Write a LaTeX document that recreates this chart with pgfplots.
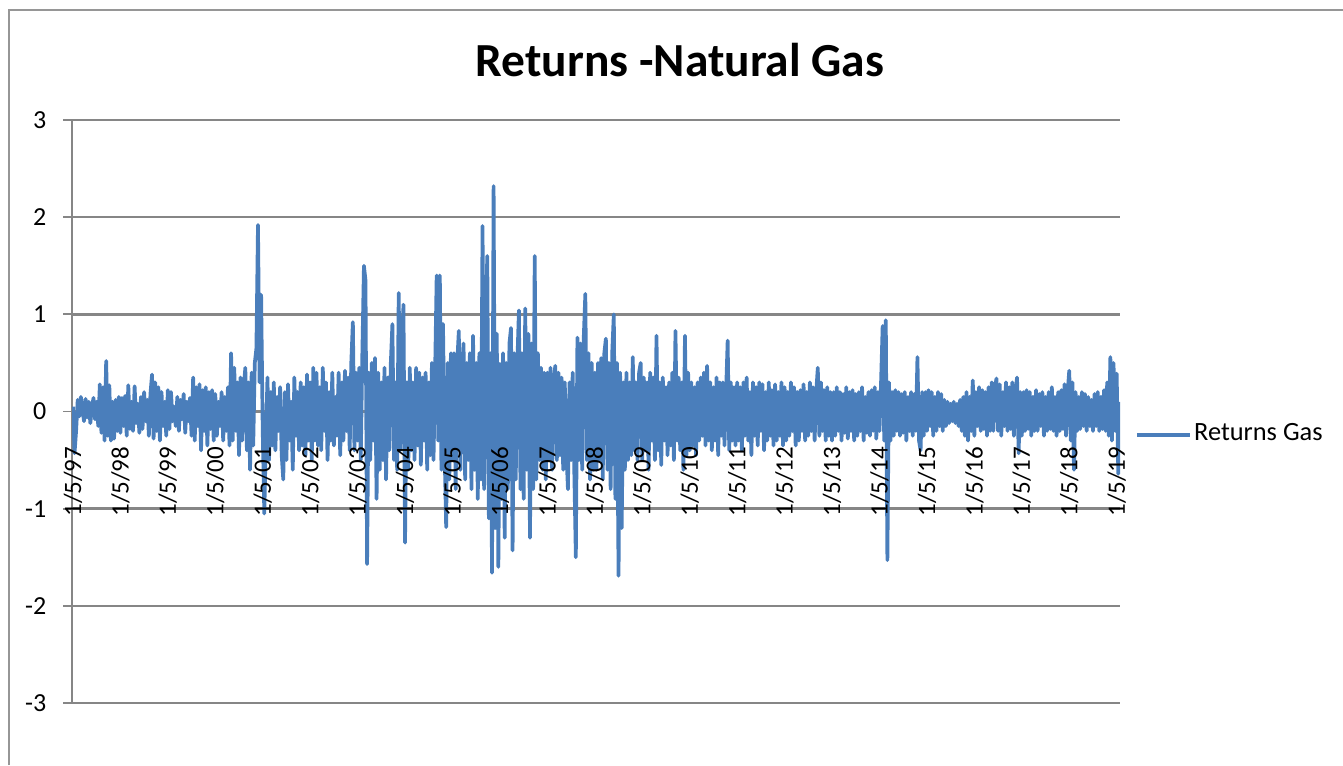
\documentclass[border=0pt]{standalone}
\usepackage{fontspec}
\setmainfont{Carlito}
\usepackage{pgfplots}
\pgfplotsset{compat=1.18}
\usepackage{pgfplotstable}
\definecolor{gasblue}{HTML}{4A7EBB}
\definecolor{gridgray}{RGB}{134,134,134}
\definecolor{framegray}{RGB}{150,150,150}

\pgfplotsset{
  gasframe/.style={
    at={(0.72cm,0.62cm)}, anchor=south west,
    scale only axis, width=10.48cm, height=5.83cm,
    xmin=-0.02, xmax=22.07, ymin=-3, ymax=3,
  },
}

% one value every ~12 days, 30 values per year starting 1/5/97
\pgfplotstableread[row sep=\\]{
y\\
0.05\\ -0.43\\ -0.2\\ 0.12\\ -0.05\\ 0.15\\ 0.02\\ -0.1\\ 0.13\\ -0.06\\ 0.1\\ -0.12\\ 0.05\\ 0.14\\ -0.08\\ 0.1\\ -0.15\\ 0.28\\ -0.22\\ 0.25\\ -0.3\\ 0.52\\ -0.25\\ 0.27\\ -0.3\\ 0.1\\ -0.28\\ 0.12\\ -0.2\\ 0.15\\
-0.22\\ 0.14\\ -0.15\\ 0.16\\ -0.25\\ 0.27\\ -0.18\\ 0.1\\ -0.2\\ 0.26\\ -0.12\\ 0.08\\ -0.22\\ 0.15\\ -0.18\\ 0.2\\ -0.1\\ 0.12\\ -0.25\\ 0.18\\ 0.38\\ -0.28\\ 0.3\\ -0.2\\ 0.25\\ -0.3\\ 0.2\\ -0.15\\ 0.1\\ -0.25\\
0.22\\ -0.18\\ 0.2\\ -0.1\\ 0.05\\ -0.15\\ 0.15\\ -0.2\\ 0.12\\ -0.08\\ 0.18\\ -0.22\\ 0.1\\ -0.1\\ 0.14\\ -0.25\\ 0.35\\ -0.3\\ 0.25\\ -0.15\\ 0.28\\ -0.4\\ 0.22\\ -0.2\\ 0.25\\ -0.35\\ 0.2\\ -0.18\\ 0.22\\ -0.3\\
0.18\\ -0.25\\ 0.1\\ -0.15\\ 0.2\\ -0.3\\ 0.15\\ -0.2\\ 0.25\\ -0.35\\ 0.6\\ -0.3\\ 0.45\\ -0.2\\ 0.3\\ -0.45\\ 0.35\\ -0.3\\ 0.25\\ 0.45\\ -0.4\\ 0.3\\ -0.6\\ 0.4\\ -0.35\\ 0.5\\ 0.65\\ 1.92\\ 0.3\\ 1.2\\
-0.2\\ -1.05\\ -0.3\\ 0.35\\ -0.5\\ 0.2\\ -0.35\\ 0.3\\ -0.4\\ 0.15\\ -0.2\\ 0.25\\ -0.45\\ -0.7\\ 0.2\\ -0.5\\ 0.28\\ -0.3\\ 0.1\\ -0.6\\ 0.35\\ -0.25\\ 0.2\\ -0.4\\ 0.3\\ -0.35\\ 0.25\\ -0.45\\ 0.38\\ -0.3\\
0.3\\ -0.5\\ 0.45\\ -0.3\\ 0.4\\ -0.35\\ 0.25\\ -0.4\\ 0.45\\ -0.2\\ 0.3\\ -0.5\\ 0.2\\ -0.3\\ 0.4\\ -0.35\\ 0.15\\ -0.25\\ 0.4\\ -0.45\\ 0.3\\ -0.3\\ 0.42\\ -0.2\\ 0.35\\ -0.4\\ 0.5\\ 0.92\\ -0.4\\ 0.4\\
-0.3\\ 0.45\\ -0.5\\ 0.6\\ 1.5\\ 1.35\\ -1.57\\ 0.4\\ -0.5\\ 0.5\\ -0.3\\ 0.55\\ -0.9\\ 0.4\\ -0.6\\ 0.3\\ -0.5\\ 0.45\\ -0.7\\ 0.35\\ -0.4\\ 0.5\\ 0.9\\ -0.5\\ 0.3\\ -0.6\\ 1.22\\ -0.4\\ 0.6\\ 1.1\\
-1.35\\ 0.3\\ -0.6\\ 0.45\\ -0.4\\ 0.3\\ -0.5\\ 0.45\\ -0.35\\ 0.4\\ -0.55\\ 0.35\\ -0.3\\ 0.4\\ -0.6\\ 0.3\\ -0.45\\ 0.5\\ -0.5\\ 0.4\\ 1.4\\ -0.3\\ 1.4\\ -0.6\\ 0.9\\ -0.4\\ -1.19\\ 0.5\\ -0.7\\ 0.6\\
-0.5\\ 0.6\\ -0.8\\ 0.5\\ 0.83\\ -0.6\\ 0.4\\ 0.7\\ -0.7\\ 0.5\\ -0.5\\ 0.6\\ -0.8\\ 0.78\\ -0.6\\ 0.5\\ -0.9\\ 0.6\\ -0.7\\ 1.91\\ -0.8\\ 0.9\\ 1.6\\ -1.1\\ 0.6\\ -1.66\\ 2.32\\ -1.2\\ 0.8\\ -1.6\\
0.49\\ -0.9\\ 0.6\\ -1.3\\ 0.5\\ -0.8\\ 0.7\\ 0.86\\ -1.43\\ 0.6\\ -0.7\\ 0.5\\ 1.04\\ -0.8\\ 0.6\\ -0.9\\ 1.06\\ -0.6\\ 0.8\\ -1.3\\ 0.7\\ -0.8\\ 1.6\\ -0.7\\ 0.6\\ -0.5\\ 0.45\\ -0.6\\ 0.4\\ -0.7\\
0.4\\ -0.5\\ 0.45\\ -0.6\\ 0.3\\ 0.47\\ -0.5\\ 0.4\\ -0.45\\ 0.35\\ -0.6\\ 0.3\\ -0.4\\ -0.8\\ 0.3\\ -0.5\\ 0.4\\ -0.6\\ -1.5\\ 0.76\\ -0.5\\ 0.7\\ -0.6\\ 0.76\\ 1.21\\ -0.5\\ 0.6\\ -0.7\\ 0.5\\ -0.6\\
0.4\\ -0.6\\ 0.5\\ -0.5\\ 0.55\\ -0.7\\ 0.6\\ 0.75\\ -0.6\\ 0.5\\ -0.8\\ 0.6\\ 1.0\\ -0.9\\ 0.5\\ -1.69\\ 0.4\\ -1.2\\ 0.3\\ -0.6\\ 0.4\\ -0.5\\ 0.3\\ -0.45\\ 0.56\\ -0.4\\ 0.3\\ -0.5\\ 0.4\\ 0.5\\
-0.5\\ 0.35\\ -0.4\\ 0.3\\ -0.6\\ 0.4\\ -0.3\\ 0.35\\ -0.5\\ 0.78\\ -0.4\\ 0.3\\ -0.55\\ 0.35\\ -0.3\\ 0.25\\ -0.45\\ 0.3\\ -0.35\\ 0.4\\ -0.5\\ 0.83\\ -0.3\\ 0.35\\ -0.4\\ 0.3\\ -0.6\\ 0.78\\ -0.45\\ 0.4\\
-0.4\\ 0.3\\ -0.35\\ 0.25\\ -0.45\\ 0.3\\ -0.3\\ 0.35\\ -0.25\\ 0.4\\ -0.35\\ 0.47\\ -0.3\\ 0.3\\ -0.4\\ 0.25\\ -0.3\\ 0.35\\ -0.45\\ 0.3\\ -0.25\\ 0.3\\ -0.35\\ 0.2\\ 0.73\\ -0.4\\ 0.3\\ -0.3\\ 0.25\\ -0.35\\
0.3\\ -0.3\\ 0.25\\ -0.4\\ 0.3\\ -0.25\\ 0.35\\ -0.3\\ 0.2\\ -0.45\\ 0.3\\ -0.25\\ 0.25\\ -0.35\\ 0.3\\ -0.2\\ 0.28\\ -0.4\\ 0.2\\ -0.3\\ 0.3\\ -0.25\\ 0.22\\ -0.35\\ 0.28\\ -0.3\\ 0.2\\ -0.25\\ 0.3\\ -0.35\\
0.25\\ -0.3\\ 0.2\\ -0.25\\ 0.3\\ -0.2\\ 0.25\\ -0.35\\ 0.2\\ -0.3\\ 0.22\\ -0.2\\ 0.28\\ -0.3\\ 0.2\\ -0.25\\ 0.3\\ -0.2\\ 0.25\\ -0.3\\ 0.2\\ 0.45\\ -0.25\\ 0.3\\ -0.2\\ 0.22\\ -0.3\\ 0.25\\ -0.25\\ 0.2\\
-0.3\\ 0.2\\ -0.25\\ 0.25\\ -0.2\\ 0.2\\ -0.3\\ 0.18\\ -0.22\\ 0.25\\ -0.28\\ 0.2\\ -0.2\\ 0.22\\ -0.3\\ 0.18\\ -0.25\\ 0.2\\ -0.2\\ 0.25\\ -0.3\\ 0.15\\ -0.22\\ 0.2\\ -0.25\\ 0.22\\ -0.2\\ 0.25\\ -0.28\\ 0.2\\
-0.2\\ 0.3\\ 0.88\\ -0.3\\ 0.94\\ -1.53\\ 0.3\\ -0.3\\ 0.2\\ -0.25\\ 0.22\\ -0.2\\ 0.2\\ -0.25\\ 0.18\\ -0.22\\ 0.2\\ -0.3\\ 0.15\\ -0.2\\ 0.2\\ -0.25\\ 0.18\\ -0.2\\ 0.56\\ -0.3\\ -0.4\\ 0.2\\ -0.25\\ 0.2\\
-0.2\\ 0.22\\ -0.15\\ 0.2\\ -0.25\\ 0.15\\ -0.2\\ 0.2\\ -0.15\\ 0.18\\ -0.2\\ 0.12\\ -0.15\\ 0.1\\ -0.12\\ 0.08\\ -0.1\\ 0.1\\ -0.12\\ 0.08\\ -0.15\\ 0.12\\ -0.2\\ 0.15\\ -0.25\\ 0.2\\ -0.3\\ 0.15\\ -0.2\\ 0.32\\
-0.25\\ 0.2\\ -0.15\\ 0.25\\ -0.2\\ 0.22\\ -0.18\\ 0.2\\ -0.25\\ 0.25\\ -0.2\\ 0.3\\ -0.2\\ 0.25\\ 0.34\\ -0.2\\ 0.28\\ -0.25\\ 0.2\\ -0.15\\ 0.3\\ -0.2\\ 0.25\\ -0.18\\ 0.3\\ -0.25\\ 0.2\\ 0.35\\ -0.43\\ 0.2\\
-0.25\\ 0.2\\ -0.2\\ 0.22\\ -0.18\\ 0.2\\ -0.25\\ 0.15\\ -0.2\\ 0.22\\ -0.2\\ 0.18\\ -0.15\\ 0.2\\ -0.25\\ 0.15\\ -0.2\\ 0.2\\ -0.18\\ 0.25\\ -0.2\\ 0.15\\ -0.25\\ 0.2\\ -0.2\\ 0.22\\ -0.18\\ 0.28\\ -0.25\\ 0.2\\
0.42\\ -0.3\\ 0.3\\ -0.6\\ 0.2\\ -0.2\\ 0.15\\ -0.18\\ 0.2\\ -0.15\\ 0.18\\ -0.2\\ 0.15\\ -0.15\\ 0.12\\ -0.2\\ 0.18\\ -0.15\\ 0.2\\ -0.2\\ 0.15\\ -0.18\\ 0.22\\ -0.2\\ 0.3\\ -0.25\\ 0.56\\ -0.3\\ 0.5\\ -0.2\\
0.39\\ -0.64\\ 0.1\\
}\gasdata

\begin{document}
\begin{tikzpicture}[x=1cm,y=1cm]
\useasboundingbox (0,0) rectangle (13.43,7.65);
\draw[framegray, line width=0.6pt] (0.09,0) -- (0.09,7.55) -- (13.43,7.55);
\node[font=\bfseries\fontsize{13.5}{16}\selectfont, inner sep=0pt] at (6.80,7.05) {Returns -Natural Gas};
% main axis: grid, y axis, data, legend
\begin{axis}[
  gasframe,
  axis x line=middle, axis y line=left,
  axis line style={-, draw=gridgray, line width=0.5pt},
  xtick=\empty,
  ytick={-3,-2,...,3},
  yticklabel style={font=\fontsize{7.4}{8}\selectfont, inner sep=0pt},
  yticklabel shift=0.16cm,
  /pgf/number format/assume math mode=true,
  ytick style={draw=gridgray, line width=0.5pt},
  tick align=outside, major tick length=0.09cm,
  ymajorgrids, major grid style={draw=gridgray, line width=0.7pt},
  legend style={at={(1.0135,0.46)}, anchor=west, draw=none, fill=none,
    font=\fontsize{7.5}{9}\selectfont, inner sep=0pt,
    nodes={inner sep=0.7pt}},
  legend image code/.code={\draw[#1, line width=1.1pt] (0cm,0cm) -- (0.53cm,0cm);},
]
\addplot[gasblue, line width=1.05pt, line join=round] table[x expr=\coordindex/30, y=y] {\gasdata};
\addlegendentry{Returns Gas}
\end{axis}
% overlay axis: date labels drawn on top of the data
\begin{axis}[
  gasframe,
  axis x line=middle, axis y line=none,
  axis line style={draw=none},
  hide obscured x ticks=false,
  xtick={0,...,22},
  xticklabels={1/5/97,1/5/98,1/5/99,1/5/00,1/5/01,1/5/02,1/5/03,1/5/04,1/5/05,1/5/06,1/5/07,1/5/08,1/5/09,1/5/10,1/5/11,1/5/12,1/5/13,1/5/14,1/5/15,1/5/16,1/5/17,1/5/18,1/5/19},
  xticklabel style={rotate=90, anchor=east, inner sep=0pt, font=\fontsize{7.1}{8}\selectfont},
  xticklabel shift=0.27cm,
  xtick style={draw=none},
  ytick=\empty,
]
\end{axis}
\end{tikzpicture}
\end{document}
